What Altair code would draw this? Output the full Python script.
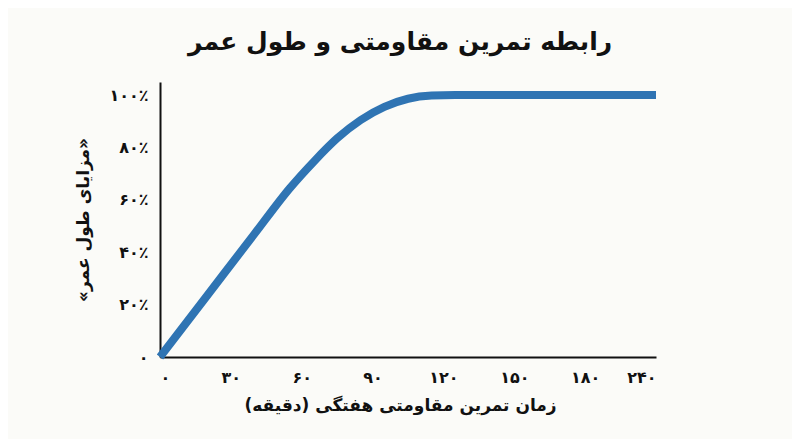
import altair as alt
import pandas as pd

# Data
minutes = [0, 20, 40, 55, 65, 75, 85, 95, 105, 115, 125, 150, 180, 240]
benefit = [0, 23.5, 47, 64.5, 74.5, 83.5, 90.5, 95.5, 98.6, 99.8, 100, 100, 100, 100]

x_ticks = [0, 30, 60, 90, 120, 150, 180, 240]
x_tick_labels = ["۰", "۳۰", "۶۰", "۹۰", "۱۲۰", "۱۵۰", "۱۸۰", "۲۴۰"]
y_ticks = [0, 20, 40, 60, 80, 100]
y_tick_labels = ["۰", "۲۰٪", "۴۰٪", "۶۰٪", "۸۰٪", "۱۰۰٪"]

title_text = "رابطه تمرین مقاومتی و طول عمر"
x_title = "زمان تمرین مقاومتی هفتگی (دقیقه)"
y_title = "«مزایای طول عمر»"

df = pd.DataFrame({"minutes": minutes, "benefit": benefit})

FONT = "DejaVu Sans"
W, H = 496, 275


def label_expr(vals, labels):
    arr_l = "[" + ",".join("'" + s + "'" for s in labels) + "]"
    arr_v = "[" + ",".join(str(v) for v in vals) + "]"
    return f"{arr_l}[indexof({arr_v}, datum.value)]"


chart = (
    alt.Chart(df)
    .mark_line(color="#2f74b3", strokeWidth=8, interpolate="monotone")
    .encode(
        x=alt.X(
            "minutes:Q",
            scale=alt.Scale(domain=[0, 180, 240], range=[0, W * 6 / 7, W]),
            axis=alt.Axis(
                values=x_ticks,
                labelExpr=label_expr(x_ticks, x_tick_labels),
                title=x_title,
                labelPadding=12,
                titlePadding=12,
                titleX=W / 2 - 8,
                titleFontSize=17,
            ),
        ),
        y=alt.Y(
            "benefit:Q",
            scale=alt.Scale(domain=[0, 105], nice=False),
            axis=alt.Axis(
                values=y_ticks,
                labelExpr=label_expr(y_ticks, y_tick_labels),
                title=y_title,
                labelPadding=12,
                titlePadding=16,
                titleFontSize=17,
            ),
        ),
    )
    .properties(
        width=W,
        height=H,
        title=alt.TitleParams(
            title_text,
            font=FONT,
            fontSize=25,
            fontWeight="bold",
            color="#111111",
            anchor="middle",
            dx=-8,
            offset=24,
        ),
        background="#fbfbf8",
        autosize=alt.AutoSizeParams(type="none"),
        padding={"left": 152, "top": 74, "right": 136, "bottom": 82},
    )
    .configure_view(stroke=None)
    .configure_axis(
        labelFont=FONT,
        titleFont=FONT,
        labelFontSize=16,
        labelFontWeight="bold",
        titleFontWeight="bold",
        labelColor="#111111",
        titleColor="#111111",
        domainColor="#111111",
        domainWidth=2,
        ticks=False,
        grid=False,
    )
)

chart.save("out.html", embed_options={"renderer": "svg", "actions": False})
